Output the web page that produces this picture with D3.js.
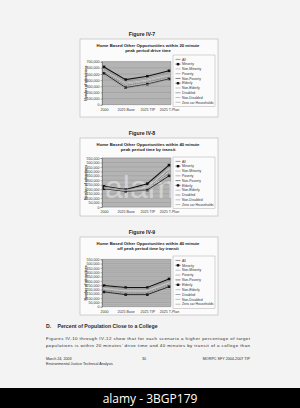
<!DOCTYPE html>
<html><head><meta charset="utf-8">
<script src="https://cdn.jsdelivr.net/npm/d3@7"></script>
<style>html,body{margin:0;padding:0;background:#f3f3f3;}svg{display:block;}</style>
</head><body><svg id="c" width="300" height="408"></svg>
<script>
const categories = ["2000", "2025 Base", "2025 TIP", "2025 T-Plan"];
const seriesNames = ["All","Minority","Non-Minority","Poverty","Non-Poverty","Elderly","Non-Elderly","Disabled","Non-Disabled","Zero car Households"];
// Figure IV-7 values (attractions)
const fig7 = [
  [560000,355000,405000,490000],
  [615000,408000,462000,552000],
  [545000,340000,392000,478000],
  [585000,382000,440000,525000],
  [548000,345000,398000,482000],
  [512000,278000,335000,420000],
  [555000,352000,402000,486000],
  [525000,315000,370000,452000],
  [552000,348000,400000,484000],
  [478000,268000,328000,410000]
];
// Figure IV-8 values
const fig8 = [
  [215000,185000,215000,420000],
  [232000,195000,262000,470000],
  [210000,180000,205000,400000],
  [226000,190000,240000,450000],
  [212000,182000,210000,410000],
  [205000,176000,190000,350000],
  [217000,186000,218000,428000],
  [208000,178000,200000,380000],
  [214000,184000,212000,415000],
  [220000,188000,182000,300000]
];
// Figure IV-9 values
const fig9 = [
  [205000,178000,178000,272000],
  [245000,222000,222000,322000],
  [195000,168000,168000,262000],
  [235000,210000,210000,305000],
  [198000,172000,172000,266000],
  [172000,140000,140000,232000],
  [208000,182000,182000,276000],
  [188000,158000,158000,252000],
  [202000,175000,175000,268000],
  [225000,200000,200000,295000]
];
const ticks7 = [0,100000,200000,300000,400000,500000,600000,700000];
const ticks89 = [0,50000,100000,150000,200000,250000,300000,350000,400000,450000,500000,550000];

const styles = [
  {c:"#555",w:0.6},
  {c:"#111",w:1.1,m:"sq"},
  {c:"#e8e8e8",w:0.7},
  {c:"#8a8a8a",w:0.6},
  {c:"#333",w:0.6},
  {c:"#1a1a1a",w:0.9,m:"sq"},
  {c:"#f5f5f5",w:0.6},
  {c:"#6a6a6a",w:0.6,d:"1.5,0.8"},
  {c:"#d0d0d0",w:0.6},
  {c:"#9a9a9a",w:0.6}
];

const svg = d3.select("#c");
const FONT = "Liberation Sans, Arial, sans-serif";

function drawChart(o){
  const g = svg.append("g");
  g.append("text").attr("x",142).attr("y",o.figY).attr("text-anchor","middle")
    .attr("font-family",FONT).attr("font-weight","bold").attr("font-size",5.2).attr("fill","#222").text(o.fig);
  g.append("rect").attr("x",80).attr("y",o.boxTop).attr("width",138).attr("height",o.boxBot-o.boxTop)
    .attr("fill","#fbfbfb").attr("stroke","#b5b5b5").attr("stroke-width",0.6);
  o.title.forEach((t,i)=>{
    g.append("text").attr("x",148).attr("y",o.boxTop+7.5+i*5.6).attr("text-anchor","middle")
      .attr("font-family",FONT).attr("font-weight","bold").attr("font-size",4.3).attr("fill","#222").text(t);
  });
  const y = d3.scaleLinear().domain([0,o.max]).range([o.plotBot,o.plotTop]);
  const x = d3.scalePoint().domain(categories).range([104,169]);
  g.append("rect").attr("x",102).attr("y",o.plotTop).attr("width",69).attr("height",o.plotBot-o.plotTop)
    .attr("fill","#b4b4b4").attr("stroke","#888").attr("stroke-width",0.4);
  // grid
  g.selectAll(null).data(o.ticks).enter().append("line")
    .attr("x1",102).attr("x2",171).attr("y1",d=>y(d)).attr("y2",d=>y(d))
    .attr("stroke","#8f8f8f").attr("stroke-width",0.4);
  if(o.stripes){
    const minor = d3.range(o.ticks.length-1).map(i=>o.ticks[i]+25000);
    g.selectAll(null).data(minor).enter().append("line")
      .attr("x1",102).attr("x2",171).attr("y1",d=>y(d)).attr("y2",d=>y(d))
      .attr("stroke","#a0a0a0").attr("stroke-width",0.4);
  }
  if(o.watermark){
    g.append("text").attr("x",105).attr("y",o.plotBot-9)
      .attr("font-family",FONT).attr("font-size",32).attr("fill","#ececec").attr("opacity",0.55).text(o.watermark);
  }
  // axis
  const ya = d3.axisLeft(y).tickValues(o.ticks).tickSize(1.5).tickFormat(d3.format(","));
  const ax = g.append("g").attr("transform","translate(102,0)").call(ya);
  ax.select(".domain").attr("stroke","#444").attr("stroke-width",0.4);
  ax.selectAll(".tick line").attr("stroke","#444").attr("stroke-width",0.4);
  ax.selectAll("text").attr("font-family",FONT).attr("font-size",3.6).attr("fill","#333").attr("x",-2.5);
  const xa = d3.axisBottom(x).tickSize(0);
  const bx = g.append("g").attr("transform","translate(0,"+o.plotBot+")").call(xa);
  bx.select(".domain").remove();
  bx.selectAll("text").attr("font-family",FONT).attr("font-size",3.6).attr("fill","#333").attr("dy",0).attr("y",o.xLabY-o.plotBot);
  g.append("text").attr("transform","translate(87,"+((o.plotTop+o.plotBot)/2)+") rotate(-90)")
    .attr("text-anchor","middle").attr("font-family",FONT).attr("font-weight","bold").attr("font-size",3.4).attr("fill","#333").text("Number of attractions");
  // lines
  const line = d3.line().x((d,i)=>x(categories[i])).y(d=>y(d));
  o.data.forEach((vals,si)=>{
    const s = styles[si];
    g.append("path").attr("d",line(vals)).attr("fill","none").attr("stroke",s.c).attr("stroke-width",s.w)
      .attr("stroke-dasharray",s.d||null);
    if(s.m){
      g.selectAll(null).data(vals).enter().append("rect")
        .attr("x",(d,i)=>x(categories[i])-1.3).attr("y",d=>y(d)-1.3).attr("width",2.6).attr("height",2.6).attr("fill",s.c);
    }
  });
  // legend
  const lt = o.legTop, lb = o.plotBot;
  g.append("rect").attr("x",173).attr("y",lt).attr("width",42).attr("height",lb-lt+1.5)
    .attr("fill","#fbfbfb").attr("stroke","#999").attr("stroke-width",0.4);
  const step = (lb-lt-2)/seriesNames.length;
  seriesNames.forEach((n,i)=>{
    const yy = lt+3+i*step+step/2-1;
    const s = styles[i];
    const lc = (s.c==="#f5f5f5"||s.c==="#e8e8e8"||s.c==="#d0d0d0")?"#9a9a9a":s.c;
    g.append("line").attr("x1",175.5).attr("x2",180.5).attr("y1",yy).attr("y2",yy).attr("stroke",lc).attr("stroke-width",0.6);
    if(s.m) g.append("rect").attr("x",176.8).attr("y",yy-1.2).attr("width",2.4).attr("height",2.4).attr("fill",s.c);
    g.append("text").attr("x",182).attr("y",yy+1.2).attr("font-family",FONT).attr("font-size",3.4).attr("fill","#333").text(n);
  });
}

drawChart({fig:"Figure IV-7",figY:36,boxTop:39,boxBot:117,title:["Home Based Other Opportunities within 20 minute","peak period drive time"],
  max:700000,ticks:ticks7,plotTop:61.7,plotBot:104.7,xLabY:111,legTop:55,data:fig7});
drawChart({fig:"Figure IV-8",figY:134.5,boxTop:138,boxBot:216,title:["Home Based Other Opportunities within 40 minute","peak period time by transit"],
  max:550000,ticks:ticks89,plotTop:158,plotBot:207,xLabY:213,legTop:157,data:fig8,watermark:"alam"});
drawChart({fig:"Figure IV-9",figY:233.5,boxTop:237,boxBot:315,title:["Home Based Other Opportunities within 40 minute","off peak period time by transit"],
  max:550000,ticks:ticks89,plotTop:259.3,plotBot:306.7,xLabY:313,legTop:256,data:fig9,stripes:true});

// body text
const T = svg.append("g").attr("font-family",FONT).attr("fill","#2a2a2a");
T.append("text").attr("x",46).attr("y",328).attr("font-weight","bold").attr("font-size",5.2).text("D.");
T.append("text").attr("x",57.5).attr("y",328).attr("font-weight","bold").attr("font-size",5.2).text("Percent of Population Close to a College");
T.append("text").attr("x",46).attr("y",339.5).attr("font-size",4.4).attr("textLength",204).attr("lengthAdjust","spacing")
  .text("Figures IV-10 through IV-12 show that for each scenario a higher percentage of target");
T.append("text").attr("x",46).attr("y",346.5).attr("font-size",4.4).attr("textLength",204).attr("lengthAdjust","spacing")
  .text("populations is within 20 minutes' drive time and 40 minutes by transit of a college than");
T.append("text").attr("x",46).attr("y",359.5).attr("font-size",3.7).text("March 24, 2003");
T.append("text").attr("x",46).attr("y",364.5).attr("font-size",3.7).text("Environmental Justice Technical Analysis");
T.append("text").attr("x",144).attr("y",359.5).attr("font-size",3.7).attr("text-anchor","middle").text("30");
T.append("text").attr("x",250).attr("y",359.5).attr("font-size",3.7).attr("text-anchor","end").text("MORPC SFY 2004-2007 TIP");

// bottom bar
svg.append("rect").attr("x",0).attr("y",388).attr("width",300).attr("height",20).attr("fill","#000");
svg.append("text").attr("x",150).attr("y",402.5).attr("text-anchor","middle").attr("font-family","Open Sans, sans-serif")
  .attr("font-size",12).attr("fill","#fff").text("alamy - 3BGP179");
</script></body></html>
